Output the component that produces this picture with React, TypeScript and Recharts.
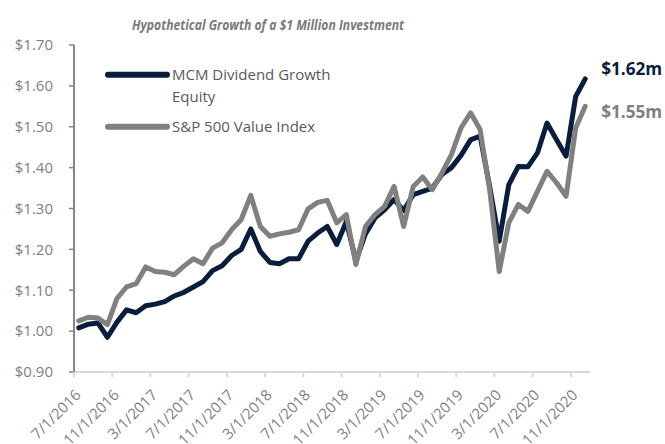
import React from 'react';
import { LineChart, Line, XAxis, YAxis, Legend } from 'recharts';

const dates = [
  '7/1/2016', '8/1/2016', '9/1/2016', '10/1/2016', '11/1/2016', '12/1/2016',
  '1/1/2017', '2/1/2017', '3/1/2017', '4/1/2017', '5/1/2017', '6/1/2017',
  '7/1/2017', '8/1/2017', '9/1/2017', '10/1/2017', '11/1/2017', '12/1/2017',
  '1/1/2018', '2/1/2018', '3/1/2018', '4/1/2018', '5/1/2018', '6/1/2018',
  '7/1/2018', '8/1/2018', '9/1/2018', '10/1/2018', '11/1/2018', '12/1/2018',
  '1/1/2019', '2/1/2019', '3/1/2019', '4/1/2019', '5/1/2019', '6/1/2019',
  '7/1/2019', '8/1/2019', '9/1/2019', '10/1/2019', '11/1/2019', '12/1/2019',
  '1/1/2020', '2/1/2020', '3/1/2020', '4/1/2020', '5/1/2020', '6/1/2020',
  '7/1/2020', '8/1/2020', '9/1/2020', '10/1/2020', '11/1/2020', '12/1/2020',
];

const mcm = [
  1.008, 1.017, 1.02, 0.985, 1.022, 1.052,
  1.045, 1.062, 1.066, 1.072, 1.086, 1.095,
  1.108, 1.121, 1.148, 1.16, 1.185, 1.2,
  1.25, 1.195, 1.168, 1.165, 1.177, 1.177,
  1.22, 1.24, 1.256, 1.212, 1.268, 1.172,
  1.238, 1.277, 1.297, 1.322, 1.295, 1.334,
  1.342, 1.35, 1.383, 1.4, 1.43, 1.468,
  1.477, 1.354, 1.22, 1.358, 1.403, 1.402,
  1.436, 1.509, 1.468, 1.428, 1.574, 1.617,
];

const sp500 = [
  1.025, 1.034, 1.032, 1.016, 1.08, 1.108,
  1.116, 1.157, 1.146, 1.144, 1.138, 1.159,
  1.177, 1.165, 1.203, 1.216, 1.248, 1.273,
  1.332, 1.256, 1.232, 1.238, 1.242, 1.248,
  1.299, 1.315, 1.32, 1.265, 1.285, 1.163,
  1.256, 1.285, 1.305, 1.354, 1.256, 1.354,
  1.377, 1.346, 1.387, 1.432, 1.497, 1.534,
  1.493, 1.346, 1.146, 1.265, 1.31, 1.293,
  1.342, 1.391, 1.363, 1.33, 1.497, 1.55,
];

const yTicks = [0.9, 1.0, 1.1, 1.2, 1.3, 1.4, 1.5, 1.6, 1.7];
const seriesNames = ['MCM Dividend Growth Equity', 'S&P 500 Value Index'];
const title = 'Hypothetical Growth of a $1 Million Investment';

const data = dates.map((d, i) => ({ date: d, mcm: mcm[i], sp: sp500[i] }));

const W = 665;
const H = 444;
const MARGIN = { top: 45, right: 75, bottom: 0, left: 0 };
const X_H = 72;
const Y_W = 74;
const PLOT_W = W - MARGIN.left - MARGIN.right - Y_W;
const HALF = PLOT_W / dates.length / 2;

const NAVY = '#0b1d3d';
const GRAY = '#808080';
const TEXT = '#7f7f7f';
const LEGEND_TEXT = '#595959';
const FONT = '"Open Sans", sans-serif';

function XTick(props: any) {
  const { x, y, payload } = props;
  const bx = x - HALF;
  const ax = x + 3;
  const ay = y + 24;
  return (
    <g>
      <line x1={bx} y1={y} x2={bx} y2={y + 5} stroke="#d9d9d9" strokeWidth={2} />
      <text
        x={ax}
        y={ay}
        transform={`rotate(-45 ${ax} ${ay})`}
        textAnchor="end"
        fill={TEXT}
        fontSize={15}
        fontFamily={FONT}
      >
        {payload.value}
      </text>
    </g>
  );
}

const endLabel = (color: string, dx: number, dy: number) => (props: any) => {
  const { x, y, index, value } = props;
  if (index !== dates.length - 1) return <g />;
  return (
    <text
      x={x + dx}
      y={y + dy}
      fill={color}
      fontWeight="bold"
      fontSize={17}
      fontFamily={FONT}
      dominantBaseline="central"
      textLength={61}
      lengthAdjust="spacingAndGlyphs"
    >
      {`$${Number(value).toFixed(2)}m`}
    </text>
  );
};

const LEGEND_LEFT = 100;
const LEGEND_TOP = 60;
const LINE_H = 21.7;
const itemCenters = [75, 127.3];

function LegendContent(props: any) {
  const payload = props.payload || [];
  return (
    <div style={{ position: 'relative', width: 320, height: 100, fontFamily: FONT, fontSize: 15, color: LEGEND_TEXT }}>
      {payload.map((p: any, i: number) => (
        <div
          key={i}
          style={{
            position: 'absolute',
            left: 0,
            top: itemCenters[i] - LINE_H / 2 - LEGEND_TOP,
            display: 'flex',
            alignItems: 'flex-start',
          }}
        >
          <svg width={72} height={LINE_H} style={{ flex: 'none' }}>
            <line x1={8} y1={LINE_H / 2} x2={67} y2={LINE_H / 2} stroke={p.color} strokeWidth={6} strokeLinecap="round" />
          </svg>
          <span style={{ width: 168, lineHeight: `${LINE_H}px`, whiteSpace: 'normal' }}>{p.value}</span>
        </div>
      ))}
    </div>
  );
}

export default function App() {
  return (
    <div style={{ position: 'absolute', left: 0, top: 0, width: W, height: H, background: '#fff', overflow: 'hidden' }}>
      <LineChart width={W} height={H} data={data} margin={MARGIN}>
        <XAxis
          dataKey="date"
          interval={3}
          padding={{ left: HALF, right: HALF }}
          axisLine={{ stroke: '#d9d9d9', strokeWidth: 2 }}
          tickLine={false}
          tickSize={0}
          tickMargin={0}
          tick={<XTick />}
          height={X_H}
        />
        <YAxis
          width={Y_W}
          domain={[0.9, 1.7]}
          ticks={yTicks}
          interval={0}
          tickFormatter={(v: number) => `$${v.toFixed(2)}`}
          axisLine={{ stroke: '#868686', strokeWidth: 2 }}
          tickLine={{ stroke: '#868686', strokeWidth: 1.5 }}
          tickSize={5}
          tickMargin={16}
          tick={{ fill: TEXT, fontSize: 15, fontFamily: FONT }}
        />
        <Legend
          layout="vertical"
          align="center"
          verticalAlign="middle"
          content={<LegendContent />}
          wrapperStyle={{ left: LEGEND_LEFT, top: LEGEND_TOP, width: 320, height: 100 }}
        />
        <Line
          type="linear"
          dataKey="mcm"
          name={seriesNames[0]}
          stroke={NAVY}
          strokeWidth={5}
          strokeLinecap="round"
          strokeLinejoin="round"
          dot={false}
          isAnimationActive={false}
          label={endLabel(NAVY, 16, -10)}
        />
        <Line
          type="linear"
          dataKey="sp"
          name={seriesNames[1]}
          stroke={GRAY}
          strokeWidth={5}
          strokeLinecap="round"
          strokeLinejoin="round"
          dot={false}
          isAnimationActive={false}
          label={endLabel(GRAY, 16, 5)}
        />
      </LineChart>
      <svg width={W} height={40} style={{ position: 'absolute', left: 0, top: 0, pointerEvents: 'none' }}>
        <text
          x={268}
          y={24}
          textAnchor="middle"
          dominantBaseline="central"
          fontFamily={FONT}
          fontStyle="italic"
          fontWeight="bold"
          fontSize={15}
          fill="#7a7a7a"
          textLength={272}
          lengthAdjust="spacingAndGlyphs"
        >
          {title}
        </text>
      </svg>
    </div>
  );
}
